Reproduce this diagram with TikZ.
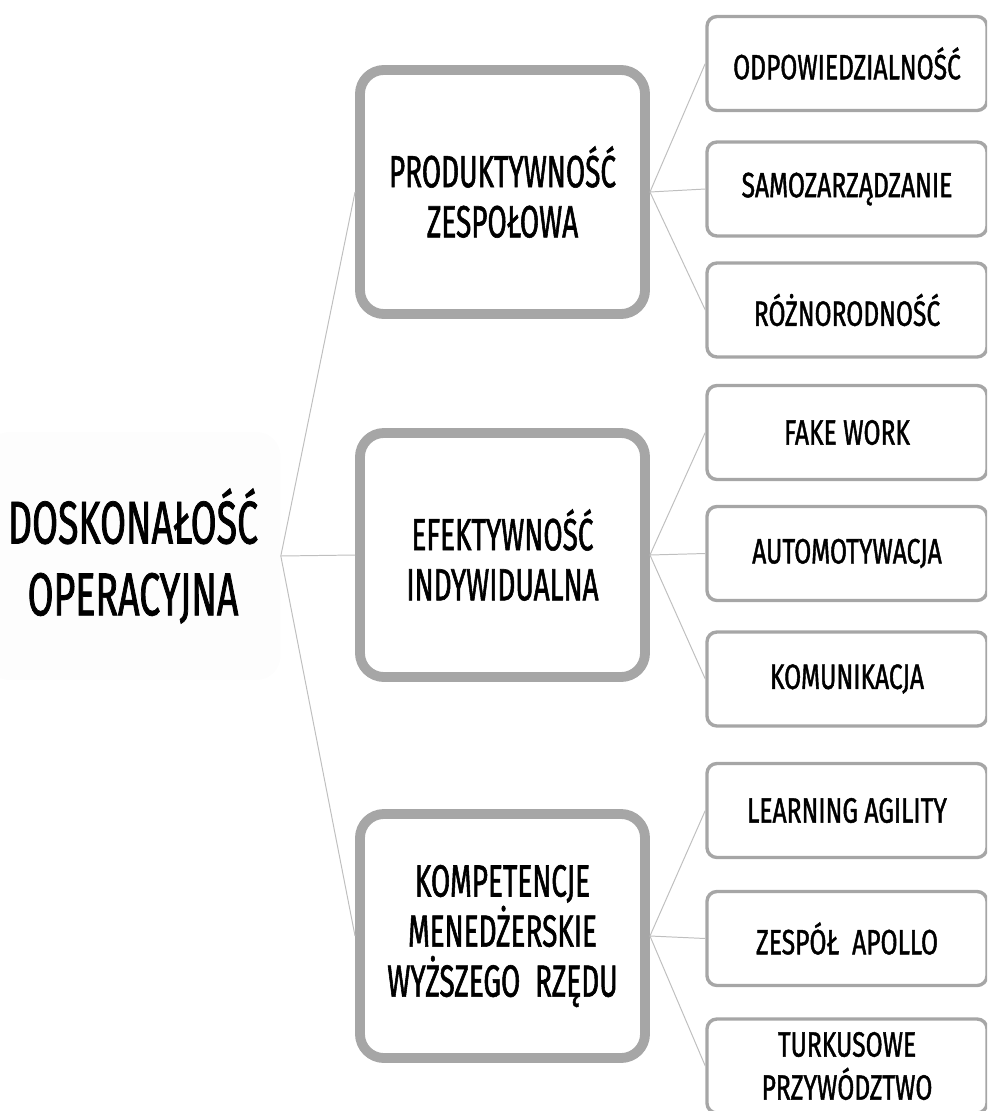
\documentclass[tikz,border=0pt]{standalone}
\usepackage{fontspec}
\setmainfont{Fira Sans}[FakeStretch=0.62, FakeBold=1.2]
\newfontfamily\leaffont{Fira Sans}[FakeStretch=0.7, FakeBold=1.2]
\usepackage{xcolor}
\definecolor{BoxGray}{HTML}{A6A6A6}
\definecolor{LineGray}{HTML}{BFBFBF}
\definecolor{RootFill}{HTML}{FDFDFD}

\begin{document}
\begin{tikzpicture}[
    x=0.025cm, y=-0.025cm,
    root/.style={
        fill=RootFill, rounded corners=0.6cm,
        minimum width=7.375cm, minimum height=6.2cm,
        align=center, font=\fontsize{43}{51}\selectfont
    },
    topic/.style={
        draw=BoxGray, line width=7pt, fill=white, rounded corners=0.6cm,
        minimum width=7.125cm, minimum height=6.1cm,
        align=center, font=\fontsize{32}{35.6}\selectfont
    },
    leaf/.style={
        draw=BoxGray, line width=2.4pt, fill=white, rounded corners=0.25cm,
        minimum width=7cm, minimum height=2.35cm,
        align=center, font=\leaffont\fontsize{25}{30.6}\selectfont
    },
    link/.style={draw=LineGray, line width=0.7pt}
]
\clip (0,0) rectangle (987,1111);

% =============================================
% LEFT: root
% =============================================
\node[root] (doskonalosc) at (133,556) {DOSKONAŁOŚĆ\\OPERACYJNA};

% =============================================
% CENTER: three topics
% =============================================
\node[topic] (produktywnosc) at (502.5,192) {PRODUKTYWNOŚĆ\\ZESPOŁOWA};
\node[topic] (efektywnosc) at (502.5,555) {EFEKTYWNOŚĆ\\INDYWIDUALNA};
\node[topic] (kompetencje) at (502.5,936) {KOMPETENCJE\\MENEDŻERSKIE\\WYŻSZEGO\ \ RZĘDU};

\draw[link] (doskonalosc.east) -- (produktywnosc.west);
\draw[link] (doskonalosc.east) -- (efektywnosc.west);
\draw[link] (doskonalosc.east) -- (kompetencje.west);

% =============================================
% RIGHT: leaves
% =============================================
\node[leaf] (odpowiedzialnosc) at (847,63.5) {ODPOWIEDZIALNOŚĆ};
\node[leaf] (samozarzadzanie) at (847,189) {SAMOZARZĄDZANIE};
\node[leaf] (roznorodnosc) at (847,310) {RÓŻNORODNOŚĆ};

\node[leaf] (fakework) at (847,432.5) {FAKE WORK};
\node[leaf] (automotywacja) at (847,553.5) {AUTOMOTYWACJA};
\node[leaf] (komunikacja) at (847,679) {KOMUNIKACJA};

\node[leaf] (agility) at (847,810.5) {LEARNING AGILITY};
\node[leaf] (apollo) at (847,938.5) {ZESPÓŁ\ \ APOLLO};
\node[leaf] (turkusowe) at (847,1066) {TURKUSOWE\\PRZYWÓDZTWO};

\draw[link] (produktywnosc.east) -- (odpowiedzialnosc.west);
\draw[link] (produktywnosc.east) -- (samozarzadzanie.west);
\draw[link] (produktywnosc.east) -- (roznorodnosc.west);

\draw[link] (efektywnosc.east) -- (fakework.west);
\draw[link] (efektywnosc.east) -- (automotywacja.west);
\draw[link] (efektywnosc.east) -- (komunikacja.west);

\draw[link] (kompetencje.east) -- (agility.west);
\draw[link] (kompetencje.east) -- (apollo.west);
\draw[link] (kompetencje.east) -- (turkusowe.west);

\end{tikzpicture}
\end{document}
